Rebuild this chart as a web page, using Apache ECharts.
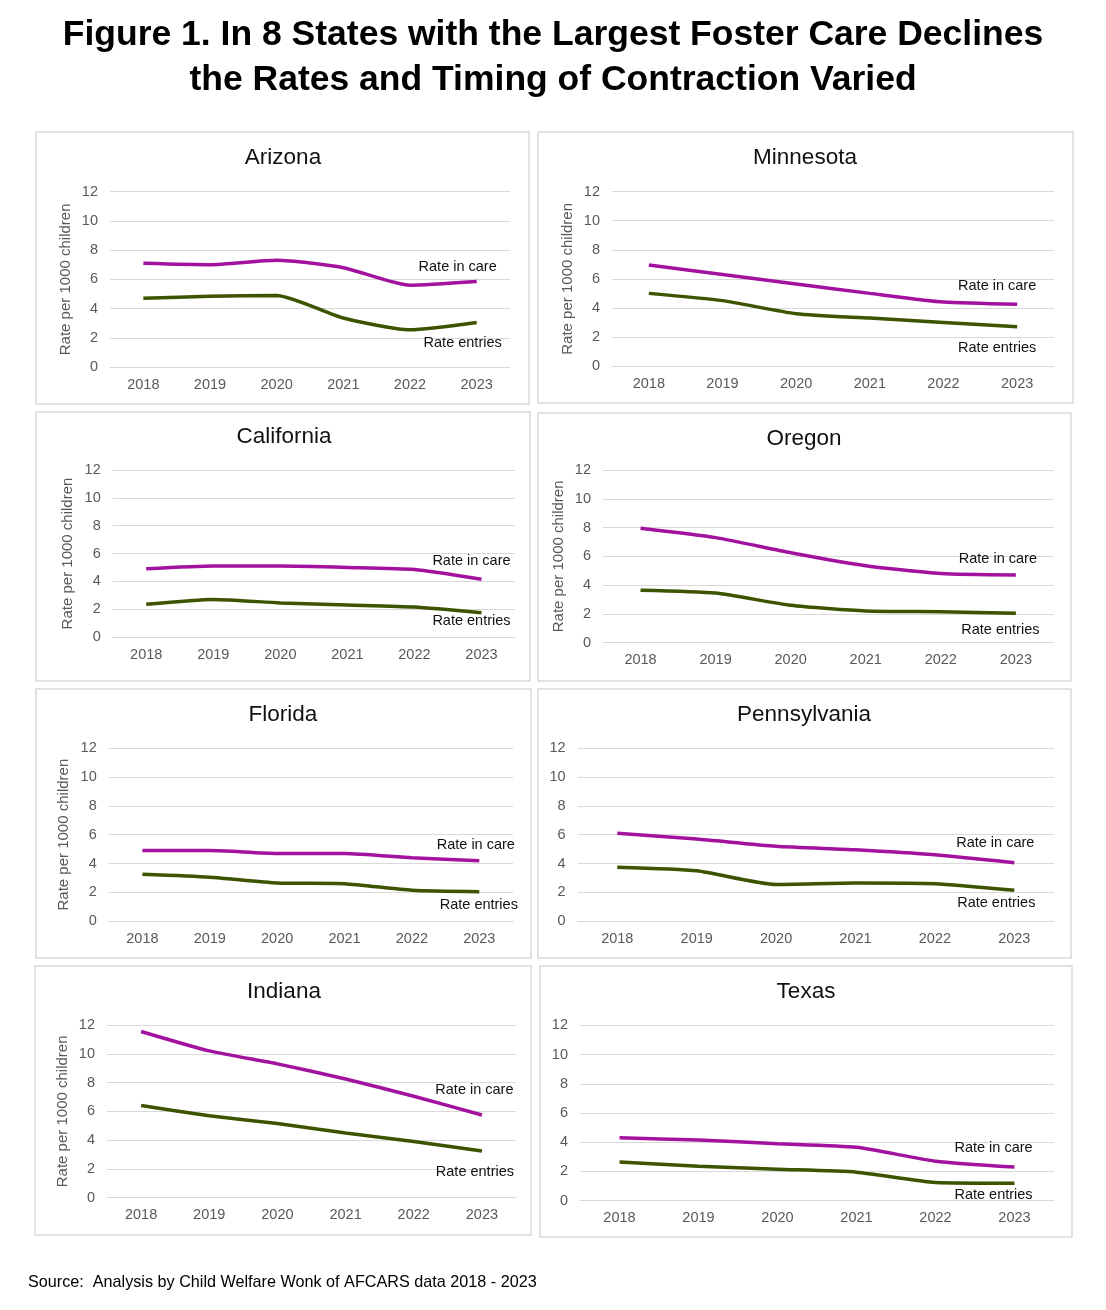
<!DOCTYPE html>
<html>
<head>
<meta charset="utf-8">
<script src="https://cdn.jsdelivr.net/npm/echarts@6/dist/echarts.min.js"></script>
<style>
  html, body { margin: 0; padding: 0; background: #ffffff; }
  #chart { width: 1106px; height: 1310px; }
</style>
</head>
<body>
<div id="chart"></div>
<script>
// ---------- DATA ----------
const years = ['2018', '2019', '2020', '2021', '2022', '2023'];
const states = ['Arizona', 'Minnesota', 'California', 'Oregon', 'Florida', 'Pennsylvania', 'Indiana', 'Texas'];
const yTicks = [0, 2, 4, 6, 8, 10, 12];

const careArizona      = [7.1, 7.0, 7.3, 6.8, 5.6, 5.85];
const careMinnesota    = [6.95, 6.3, 5.65, 5.0, 4.4, 4.25];
const careCalifornia   = [4.9, 5.1, 5.1, 5.0, 4.85, 4.15];
const careOregon       = [7.95, 7.3, 6.25, 5.35, 4.8, 4.7];
const careFlorida      = [4.9, 4.9, 4.7, 4.7, 4.4, 4.2];
const carePennsylvania = [6.1, 5.7, 5.2, 4.95, 4.6, 4.05];
const careIndiana      = [11.55, 10.2, 9.3, 8.25, 7.05, 5.75];
const careTexas        = [4.3, 4.15, 3.9, 3.65, 2.7, 2.3];

const entArizona      = [4.7, 4.85, 4.9, 3.35, 2.55, 3.05];
const entMinnesota    = [5.0, 4.5, 3.6, 3.3, 3.0, 2.7];
const entCalifornia   = [2.35, 2.7, 2.45, 2.3, 2.15, 1.75];
const entOregon       = [3.65, 3.45, 2.6, 2.2, 2.15, 2.05];
const entFlorida      = [3.25, 3.05, 2.65, 2.6, 2.15, 2.05];
const entPennsylvania = [3.75, 3.5, 2.55, 2.65, 2.6, 2.15];
const entIndiana      = [6.4, 5.7, 5.15, 4.5, 3.9, 3.25];
const entTexas        = [2.65, 2.35, 2.15, 1.95, 1.25, 1.2];

const careLabel = 'Rate in care';
const entLabel = 'Rate entries';
const yAxisName = 'Rate per 1000 children';
const mainTitle = 'Figure 1. In 8 States with the Largest Foster Care Declines\nthe Rates and Timing of Contraction Varied';
const sourceText = 'Source:  Analysis by Child Welfare Wonk of AFCARS data 2018 - 2023';

const careSeries = [careArizona, careMinnesota, careCalifornia, careOregon, careFlorida, carePennsylvania, careIndiana, careTexas];
const entSeries = [entArizona, entMinnesota, entCalifornia, entOregon, entFlorida, entPennsylvania, entIndiana, entTexas];

// ---------- LAYOUT (positions / styles) ----------
const layout = [
  { box: [36, 132, 493, 272], grid: [110, 191.7, 400, 175.3], title: [283, 158], yName: true,  careOff: [-19, -15], entOff: [-14, 21] },
  { box: [538, 132, 535, 271], grid: [612, 191.7, 442, 174.3], title: [805, 158], yName: true,  careOff: [-20, -18], entOff: [-20, 21] },
  { box: [36, 412, 494, 269], grid: [112.7, 470, 402.3, 167], title: [284, 437], yName: true,  careOff: [-10, -18], entOff: [-10, 8.5] },
  { box: [538, 413, 533, 268], grid: [603, 470, 450.4, 172.7], title: [804, 439], yName: true,  careOff: [-18, -16], entOff: [-15.5, 16.5] },
  { box: [36, 689, 495, 269], grid: [108.7, 748, 404.3, 173.3], title: [283, 715], yName: true,  careOff: [-3.5, -16], entOff: [-0.5, 13] },
  { box: [538, 689, 533, 269], grid: [577.6, 748, 476.4, 173.3], title: [804, 715], yName: false, careOff: [-19, -20], entOff: [-18, 13] },
  { box: [35, 966, 496, 269], grid: [107, 1025, 409, 172.7], title: [284, 992], yName: true,  careOff: [-7.5, -25], entOff: [-7, 21.5] },
  { box: [540, 966, 532, 271], grid: [580, 1025.3, 474, 175.4], title: [806, 992], yName: false, careOff: [-21, -19], entOff: [-21, 11.7] }
];

const CARE_COLOR = '#A3129F';
const ENT_COLOR = '#3E5300';
const FONT = 'Liberation Sans, Arial, sans-serif';

const chart = echarts.init(document.getElementById('chart'), null, { renderer: 'canvas' });

const grids = [], xAxes = [], yAxes = [], series = [], titles = [], graphics = [];

titles.push({
  text: mainTitle,
  left: 553, top: 13, textAlign: 'center', padding: 0,
  textStyle: { fontFamily: FONT, fontSize: 35.5, fontWeight: 'bold', color: '#000', lineHeight: 45 }
});
titles.push({
  text: sourceText,
  left: 28, top: 1273, padding: 0,
  textStyle: { fontFamily: FONT, fontSize: 16.2, fontWeight: 'normal', color: '#000', lineHeight: 20 }
});

function withEndLabel(values, text, offset) {
  return values.map((v, i) => {
    if (i !== values.length - 1) return v;
    return {
      value: v,
      label: {
        show: true, position: 'inside', offset: offset,
        formatter: text,
        fontFamily: FONT, fontSize: 14.5, color: '#111'
      }
    };
  });
}

states.forEach((st, k) => {
  const L = layout[k];
  graphics.push({
    type: 'rect', silent: true, z: 0,
    shape: { x: L.box[0], y: L.box[1], width: L.box[2], height: L.box[3] },
    style: { fill: 'none', stroke: '#d9d9d9', lineWidth: 1.5 }
  });
  titles.push({
    text: st, left: L.title[0], top: L.title[1] - 12, textAlign: 'center', padding: 0,
    textStyle: { fontFamily: FONT, fontSize: 22.5, fontWeight: 'normal', color: '#111', lineHeight: 24 }
  });
  grids.push({ left: L.grid[0], top: L.grid[1], width: L.grid[2], height: L.grid[3], containLabel: false });
  xAxes.push({
    type: 'category', gridIndex: k, data: years, boundaryGap: true,
    axisLine: { show: true, lineStyle: { color: '#d9d9d9', width: 1 } },
    axisTick: { show: false },
    axisLabel: { color: '#595959', fontFamily: FONT, fontSize: 14.5, margin: 10 },
    splitLine: { show: false }
  });
  yAxes.push({
    type: 'value', gridIndex: k, min: yTicks[0], max: yTicks[yTicks.length - 1], interval: 2,
    name: L.yName ? yAxisName : '',
    nameLocation: 'middle', nameGap: 37, nameRotate: 90,
    nameTextStyle: { color: '#595959', fontFamily: FONT, fontSize: 15 },
    axisLine: { show: false }, axisTick: { show: false },
    axisLabel: { color: '#595959', fontFamily: FONT, fontSize: 14.5, margin: 12 },
    splitLine: { show: true, lineStyle: { color: '#d9d9d9', width: 1 } }
  });
  series.push({
    type: 'line', name: careLabel, xAxisIndex: k, yAxisIndex: k,
    data: withEndLabel(careSeries[k], careLabel, L.careOff),
    smooth: 0.2, symbol: 'circle', symbolSize: 0.1, showSymbol: true,
    lineStyle: { color: CARE_COLOR, width: 3.5 }, itemStyle: { color: CARE_COLOR },
    animation: false, z: 3
  });
  series.push({
    type: 'line', name: entLabel, xAxisIndex: k, yAxisIndex: k,
    data: withEndLabel(entSeries[k], entLabel, L.entOff),
    smooth: 0.2, symbol: 'circle', symbolSize: 0.1, showSymbol: true,
    lineStyle: { color: ENT_COLOR, width: 3.5 }, itemStyle: { color: ENT_COLOR },
    animation: false, z: 3
  });
});

chart.setOption({
  backgroundColor: '#ffffff',
  animation: false,
  title: titles,
  grid: grids,
  xAxis: xAxes,
  yAxis: yAxes,
  series: series,
  graphic: graphics
});
</script>
</body>
</html>
